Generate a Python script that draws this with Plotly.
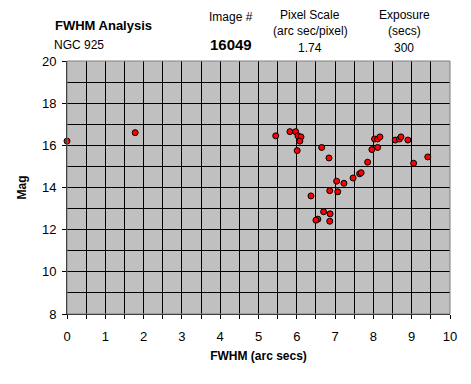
import plotly.graph_objects as go

fwhm = [0.0, 1.78, 5.45, 5.82, 5.97, 6.03, 6.11, 6.08, 6.01, 6.65, 6.84, 6.37, 7.04, 7.23,
        6.86, 7.07, 7.47, 7.64, 7.68, 7.85, 7.96, 8.11, 8.03, 8.11, 8.17, 8.57, 8.68, 8.72,
        8.90, 9.05, 9.42, 6.70, 6.87, 6.55, 6.50, 6.86]
mag = [16.2, 16.6, 16.45, 16.65, 16.65, 16.45, 16.4, 16.2, 15.75, 15.9, 15.4, 13.6, 14.3, 14.2,
       13.85, 13.8, 14.45, 14.65, 14.7, 15.2, 15.8, 15.9, 16.3, 16.3, 16.4, 16.25, 16.3, 16.4,
       16.25, 15.15, 15.45, 12.85, 12.75, 12.5, 12.45, 12.4]

FONT = "Liberation Sans, Arial, sans-serif"
OFF = 8  # page body margin
FW, FH = 471 - OFF, 384 - OFF
L, R, T, B = 67 - OFF, 21, 61 - OFF, 70

fig = go.Figure()
fig.add_trace(go.Scatter(
    x=fwhm, y=mag, mode="markers",
    marker=dict(size=6, color="#FF0000", line=dict(color="black", width=1)),
    cliponaxis=False, showlegend=False))

fig.update_layout(
    width=FW, height=FH,
    margin=dict(l=L, r=R, t=T, b=B, autoexpand=False),
    paper_bgcolor="white", plot_bgcolor="#C0C0C0",
    font=dict(family=FONT, size=12, color="black"),
    xaxis=dict(range=[0, 10], dtick=1, tick0=0, showgrid=True, gridcolor="black", gridwidth=1,
               minor=dict(dtick=0.5, showgrid=True, gridcolor="black", gridwidth=1,
                          ticks="outside", ticklen=4, tickcolor="black"),
               ticks="outside", ticklen=4, tickcolor="black", automargin=False,
               ticklabelstandoff=6,
               showline=True, linecolor="black", linewidth=1, mirror=False, zeroline=False,
               title=dict(text="<b>FWHM (arc secs)</b>", font=dict(size=12), standoff=9),
               tickfont=dict(size=13)),
    yaxis=dict(range=[8, 20], dtick=2, tick0=8, showgrid=True, gridcolor="black", gridwidth=1,
               minor=dict(dtick=1, showgrid=True, gridcolor="black", gridwidth=1),
               ticks="outside", ticklen=4, tickcolor="black", automargin=False,
               ticklabelstandoff=3,
               showline=True, linecolor="black", linewidth=1, zeroline=False,
               title=dict(text="<b>Mag</b>", font=dict(size=12), standoff=12),
               tickfont=dict(size=13)),
)

fig.add_shape(type="rect", xref="paper", yref="paper", x0=0, y0=0, x1=1, y1=1,
              line=dict(color="#808080", width=1), layer="above")

def txt(x, y, s, size=12, bold=False):
    fig.add_annotation(xref="paper", yref="paper", x=x, y=y, text=("<b>%s</b>" % s) if bold else s,
                       showarrow=False, font=dict(size=size, family=FONT, color="black"),
                       xanchor="center", yanchor="middle")

W, H = FW - L - R, FH - T - B
def px(xp): return (xp - OFF - L) / W
def py(yp): return (FH - (yp - OFF) - B) / H

txt(px(103), py(26), "FWHM Analysis", 13, True)
txt(px(79), py(45), "NGC 925", 12)
txt(px(231), py(17), "Image #", 12)
txt(px(231), py(45), "16049", 15, True)
txt(px(310), py(15), "Pixel Scale", 12)
txt(px(310), py(31), "(arc sec/pixel)", 12)
txt(px(310), py(48), "1.74", 12)
txt(px(404), py(15), "Exposure", 12)
txt(px(404), py(31), "(secs)", 12)
txt(px(404), py(48), "300", 12)

fig.write_html("out.html")
